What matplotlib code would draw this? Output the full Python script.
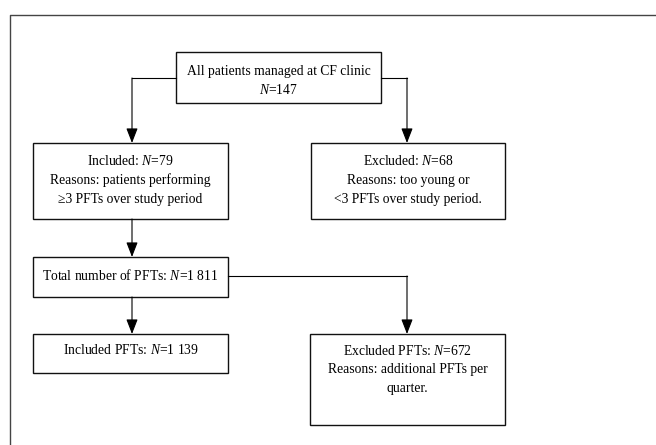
import matplotlib
matplotlib.use("Agg")
from matplotlib import pyplot as plt
from matplotlib.patches import Rectangle

plt.rcParams['font.family'] = ['Liberation Serif', 'DejaVu Serif']
plt.rcParams['mathtext.fontset'] = 'custom'
plt.rcParams['mathtext.rm'] = 'Liberation Serif'
plt.rcParams['mathtext.it'] = 'Liberation Serif:italic'

# texty v okvirjih
vrh = "All patients managed at CF clinic\n$N$=147"
vkljuceni = "Included: $N$=79\nReasons: patients performing\n≥3 PFTs over study period"
izkljuceni = "Excluded: $N$=68\nReasons: too young or\n<3 PFTs over study period."
vsi_pft = "Total number of PFTs: $N$=1 811"
vkljuceni_pft = "Included PFTs: $N$=1 139"
izkljuceni_pft = "Excluded PFTs: $N$=672\nReasons: additional PFTs per\nquarter."

# okvirji: (x0, y0, x1, y1, tekst, baseline prve vrstice, razmik vrstic) v pikslih
okvirji = [
    (176, 52, 381, 103, vrh, 74.5, 19),
    (33, 143, 228, 219, vkljuceni, 165, 19),
    (311, 143, 505, 219, izkljuceni, 165, 19),
    (33, 257, 228, 297, vsi_pft, 279.5, 19),
    (33, 334, 228, 373, vkljuceni_pft, 353.5, 19),
    (310, 334, 505, 425, izkljuceni_pft, 355, 18.5),
]

fig = plt.figure(figsize=(6.56, 4.45), dpi=100)
ax = fig.add_axes([0, 0, 1, 1])
ax.set_xlim(0, 656)
ax.set_ylim(445, 0)
ax.axis("off")

# zunanji okvir
ax.plot([9.5, 9.5, 660], [450, 14.5, 14.5], color="#444444", lw=1.0)

for x0, y0, x1, y1, tekst, yt, razmik in okvirji:
    ax.add_patch(Rectangle((x0, y0), x1 - x0, y1 - y0, fill=False, ec="#111111", lw=1.0))
    for i, vrstica in enumerate(tekst.split("\n")):
        ax.text((x0 + x1) / 2, yt + i * razmik, vrstica, ha="center", va="baseline",
                fontsize=9.85)


def puscica(tocke):
    xs = [p[0] for p in tocke]
    ys = [p[1] for p in tocke]
    ax.plot(xs[:-1], ys[:-1], color="black", lw=0.8)
    ax.annotate("", xy=tocke[-1], xytext=tocke[-2],
                arrowprops=dict(arrowstyle="-|>,head_length=0.9,head_width=0.35",
                                color="black", lw=0.8, shrinkA=0, shrinkB=0))


puscica([(176, 78), (132, 78), (132, 143)])
puscica([(381, 78), (407, 78), (407, 143)])
puscica([(132, 219), (132, 257)])
puscica([(228, 276), (407, 276), (407, 334)])
puscica([(132, 297), (132, 334)])

fig.savefig("out.png", dpi=100)
